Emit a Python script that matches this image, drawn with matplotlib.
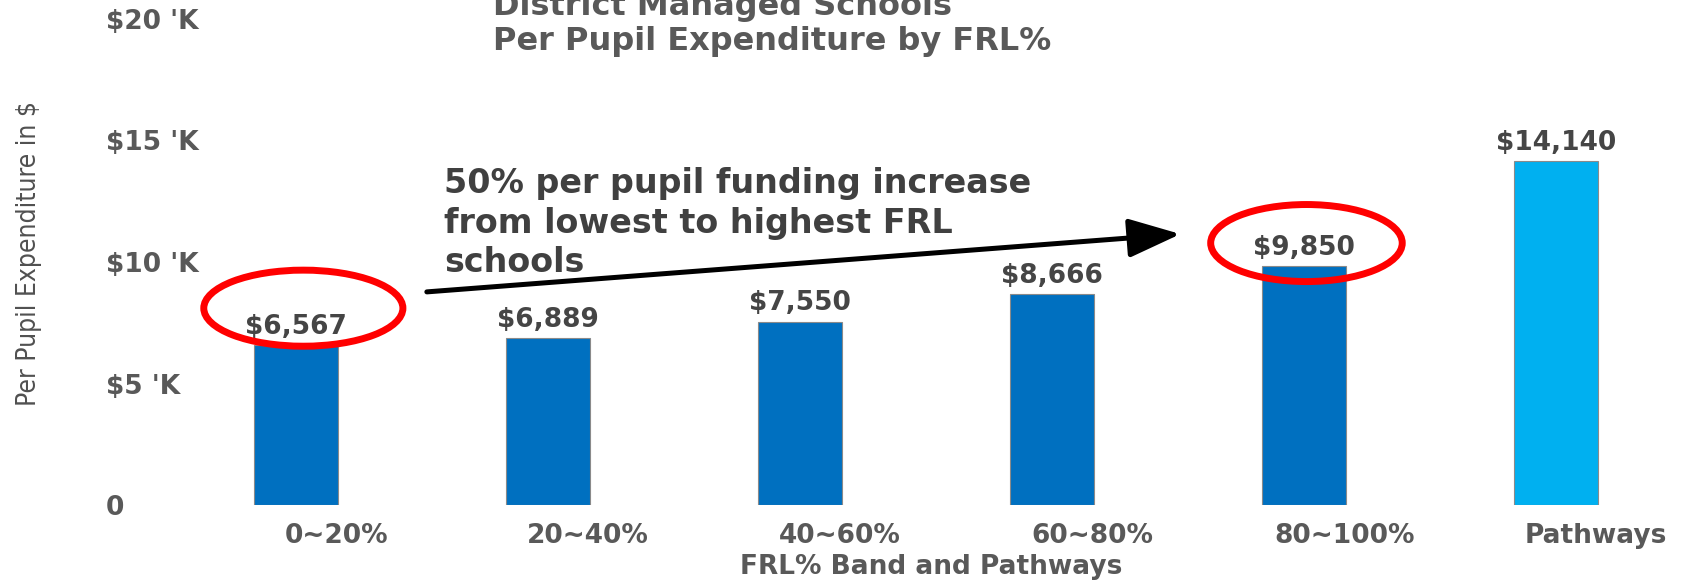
import matplotlib.pyplot as plt
from matplotlib.patches import Ellipse

# data
bands = ["0~20%", "20~40%", "40~60%", "60~80%", "80~100%", "Pathways"]
spend = [6567, 6889, 7550, 8666, 9850, 14140]
bar_colors = ["#0070C0"] * 5 + ["#00B0F0"]
yticks = [0, 5000, 10000, 15000, 20000]
ytick_labels = ["0", "$5 'K", "$10 'K", "$15 'K", "$20 'K"]

title = "District Managed Schools\nPer Pupil Expenditure by FRL%"
note = "50% per pupil funding increase\nfrom lowest to highest FRL\nschools"

plt.rcParams["font.family"] = ["DejaVu Sans"]

W, H = 1682, 581
fig = plt.figure(figsize=(W / 100, H / 100), dpi=100)
ax = fig.add_axes([200 / W, 76 / H, (W - 200) / W, 486 / H])

x = list(range(len(bands)))
bars = ax.bar(x, spend, width=0.333, color=bar_colors, edgecolor="#8a8a8a", linewidth=0.8, zorder=2)

for xi, v in zip(x, spend):
    ax.annotate(f"${v:,}", (xi, v), xytext=(0, 13), textcoords="offset points",
                ha="center", va="center", fontsize=19, fontweight="bold", color="#454545")

ax.set_xlim(-0.38, 5.5)
ax.set_ylim(0, 20000)
ax.set_yticks(yticks)
ax.set_yticklabels(ytick_labels, fontsize=19, fontweight="bold", color="#595959", ha="left")
ax.tick_params(axis="y", length=0, pad=68)
# category labels sit a bit right of the bars in the original
ax.set_xticks([xi + 0.16 for xi in x])
ax.set_xticklabels(bands, fontsize=19, fontweight="bold", color="#595959")
ax.tick_params(axis="x", length=0, pad=13)
ax.set_xlabel("FRL% Band and Pathways", fontsize=19, fontweight="bold", color="#595959")
ax.xaxis.set_label_coords((931 - 200) / (W - 200), -49 / 486)
for s in ax.spines.values():
    s.set_visible(False)

fig.text(29 / W, 1 - 254 / H, "Per Pupil Expenditure in $", rotation=90, ha="center", va="center",
         fontsize=19, color="#505050", fontstretch="condensed")
fig.text(493 / W, 1 - 24 / H, title, ha="left", va="center", fontsize=23, fontweight="bold",
         color="#595959", linespacing=1.2)

# highlight ellipses and arrow
ax.add_patch(Ellipse((0.03, 8100), 0.79, 3130, fill=False, edgecolor="#ff0000", lw=5, zorder=4))
ax.add_patch(Ellipse((4.01, 10780), 0.76, 3170, fill=False, edgecolor="#ff0000", lw=5, zorder=4))
ax.annotate("", xy=(3.51, 11150), xytext=(0.52, 8770),
            arrowprops=dict(arrowstyle="-|>,head_length=1.6,head_width=0.6", mutation_scale=20,
                            lw=3.6, color="black", shrinkA=0, shrinkB=0), zorder=3)
ax.text(0.59, 11600, note, ha="left", va="center", fontsize=24, fontweight="bold",
        color="#404040", linespacing=1.25, zorder=5)

fig.savefig("out.png", dpi=100)
